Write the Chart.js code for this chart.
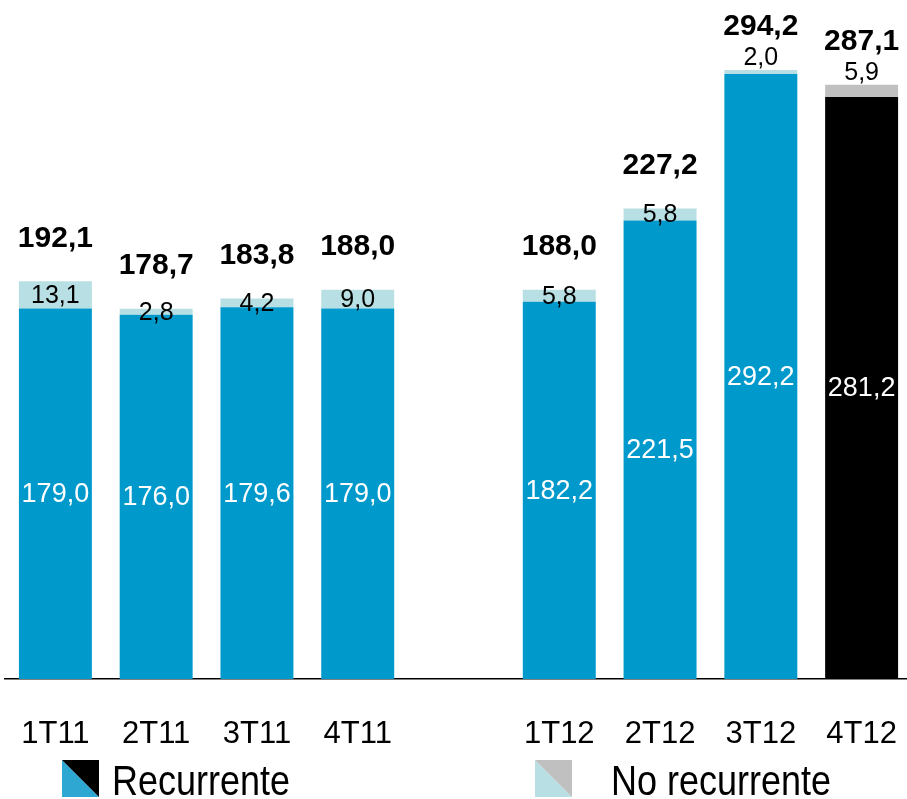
<!DOCTYPE html>
<html>
<head>
    <title>Recurrente vs No recurrente</title>
    <style>
        body {
            margin: 0;
            padding: 0;
            background-color: white;
            overflow: hidden;
        }

        /* a bit wider than the window: the last slot runs off the right edge */
        .chart-container {
            width: 912px;
            height: 799px;
        }
    </style>
    <!-- Chart.js -->
    <script src="https://cdn.jsdelivr.net/npm/chart.js@4.4.0/dist/chart.umd.min.js"></script>
</head>
<body>
    <div class="chart-container">
        <canvas id="resultChart"></canvas>
    </div>

    <script>
        // Quarters (empty slot = gap between the two years)
        const quarters = ['1T11', '2T11', '3T11', '4T11', '', '1T12', '2T12', '3T12', '4T12'];
        const recurrente = [179.0, 176.0, 179.6, 179.0, null, 182.2, 221.5, 292.2, 281.2];
        const noRecurrente = [13.1, 2.8, 4.2, 9.0, null, 5.8, 5.8, 2.0, 5.9];
        const totales = [192.1, 178.7, 183.8, 188.0, null, 188.0, 227.2, 294.2, 287.1];

        const FONT = '"Liberation Sans", Arial, sans-serif';
        const fmt = v => v.toFixed(1).replace('.', ',');

        // Colours: last quarter is highlighted in black / grey
        const recColors = quarters.map((q, i) => i === 8 ? '#000000' : '#0099cc');
        const nrColors = quarters.map((q, i) => i === 8 ? '#c0c0c0' : '#b8dfe3');

        // Small non-recurring labels placed above the bar in the last two quarters
        const nrAbove = [false, false, false, false, false, false, false, true, true];

        const labelPlugin = {
            id: 'labels',
            afterDatasetsDraw(chart) {
                const ctx = chart.ctx;
                const recMeta = chart.getDatasetMeta(0).data;
                const nrMeta = chart.getDatasetMeta(1).data;
                ctx.save();
                ctx.textAlign = 'center';
                ctx.textBaseline = 'middle';
                quarters.forEach((q, i) => {
                    if (recurrente[i] == null) return;
                    const rec = recMeta[i];
                    const nr = nrMeta[i];

                    // recurrent value, white, in the middle of the bar
                    ctx.fillStyle = '#ffffff';
                    ctx.font = '27px ' + FONT;
                    ctx.fillText(fmt(recurrente[i]), rec.x, (rec.y + rec.base) / 2 + 1);

                    // non-recurrent value
                    ctx.fillStyle = '#000000';
                    ctx.font = '25px ' + FONT;
                    const nrY = nrAbove[i] ? nr.y - 12 : (nr.y + nr.base) / 2 + 1;
                    ctx.fillText(fmt(noRecurrente[i]), nr.x, nrY);

                    // total on top, bold
                    ctx.font = 'bold 30px ' + FONT;
                    ctx.fillText(fmt(totales[i]), nr.x, nr.y - 43);
                });
                ctx.restore();
            }
        };

        // Custom legend with split-diagonal squares
        const legendPlugin = {
            id: 'splitLegend',
            afterDraw(chart) {
                const ctx = chart.ctx;
                const items = [
                    { text: 'Recurrente', a: '#2ea7d3', b: '#000000', x: 62, tx: 112 },
                    { text: 'No recurrente', a: '#b8dfe3', b: '#c0c0c0', x: 535, tx: 611 }
                ];
                const top = 760, size = 37;
                ctx.save();
                items.forEach(it => {
                    // lower-left triangle
                    ctx.fillStyle = it.a;
                    ctx.beginPath();
                    ctx.moveTo(it.x, top);
                    ctx.lineTo(it.x, top + size);
                    ctx.lineTo(it.x + size, top + size);
                    ctx.closePath();
                    ctx.fill();
                    // upper-right triangle
                    ctx.fillStyle = it.b;
                    ctx.beginPath();
                    ctx.moveTo(it.x, top);
                    ctx.lineTo(it.x + size, top);
                    ctx.lineTo(it.x + size, top + size);
                    ctx.closePath();
                    ctx.fill();

                    // text, slightly stretched vertically like the original
                    ctx.save();
                    ctx.translate(it.tx, 795);
                    ctx.scale(1, 1.17);
                    ctx.fillStyle = '#000000';
                    ctx.font = '36px ' + FONT;
                    ctx.textAlign = 'left';
                    ctx.textBaseline = 'alphabetic';
                    ctx.fillText(it.text, 0, 0);
                    ctx.restore();
                });
                ctx.restore();
            }
        };

        document.addEventListener('DOMContentLoaded', function() {
            const canvas = document.getElementById('resultChart');

            new Chart(canvas, {
                type: 'bar',
                data: {
                    labels: quarters,
                    datasets: [
                        {
                            label: 'Recurrente',
                            data: recurrente,
                            backgroundColor: recColors,
                            barPercentage: 0.724,
                            categoryPercentage: 1
                        },
                        {
                            label: 'No recurrente',
                            data: noRecurrente,
                            backgroundColor: nrColors,
                            barPercentage: 0.724,
                            categoryPercentage: 1
                        }
                    ]
                },
                options: {
                    responsive: true,
                    maintainAspectRatio: false,
                    animation: false,
                    layout: {
                        padding: { left: 5, right: 0, top: 0, bottom: 49 }
                    },
                    plugins: {
                        legend: { display: false },
                        tooltip: { enabled: false }
                    },
                    scales: {
                        x: {
                            stacked: true,
                            grid: { display: false },
                            border: { display: true, color: '#000000', width: 1.5 },
                            ticks: {
                                color: '#000000',
                                padding: 29,
                                maxRotation: 0,
                                font: { family: FONT, size: 31 }
                            },
                            // keep the axis band at a fixed size
                            afterFit(scale) {
                                scale.height = 71;
                                scale.paddingLeft = 0;
                                scale.paddingRight = 0;
                            }
                        },
                        y: {
                            stacked: true,
                            display: false,
                            min: 0,
                            max: 328
                        }
                    }
                },
                plugins: [labelPlugin, legendPlugin]
            });
        });
    </script>
</body>
</html>
